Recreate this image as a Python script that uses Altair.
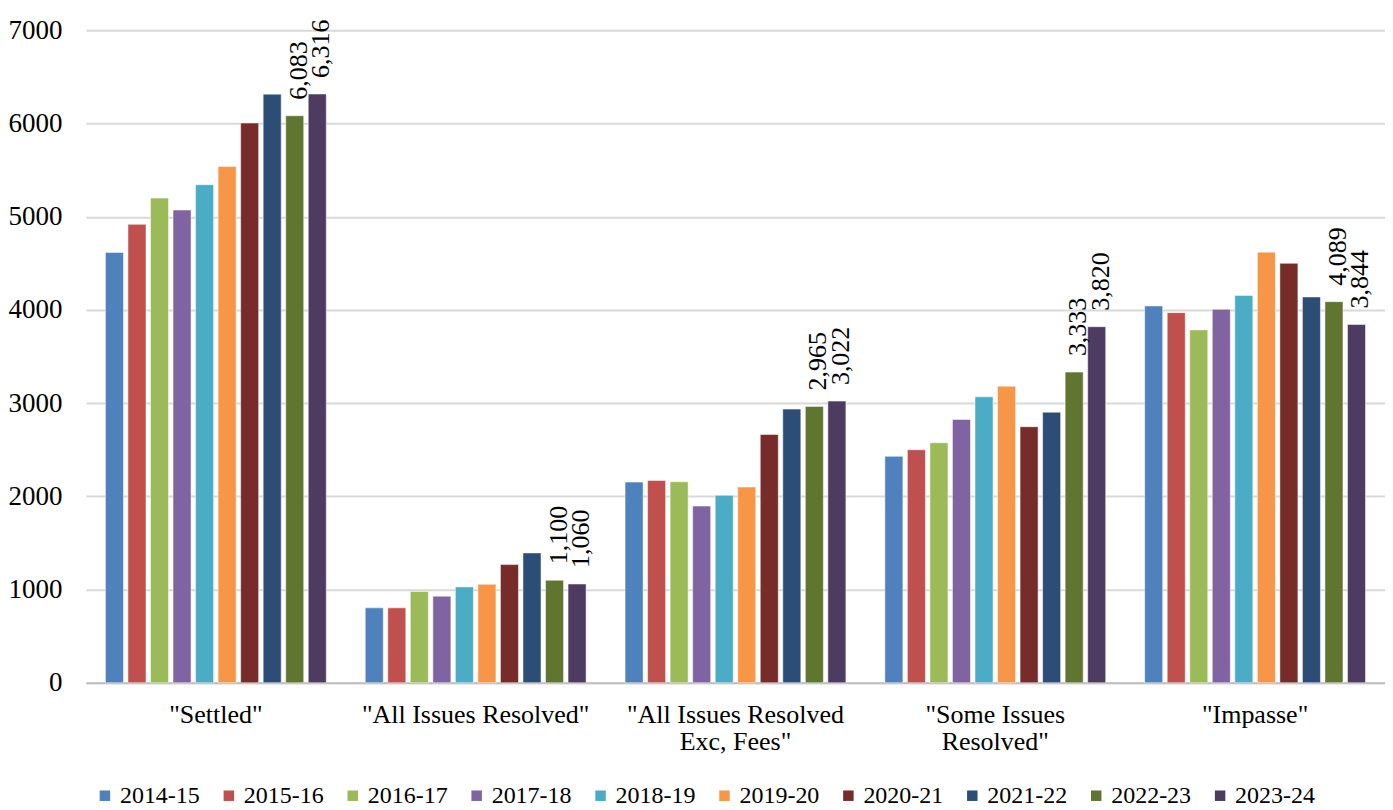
import altair as alt
import pandas as pd

categories = ['"Settled"', '"All Issues Resolved"', '"All Issues Resolved|Exc, Fees"',
              '"Some Issues|Resolved"', '"Impasse"']
years = ["2014-15", "2015-16", "2016-17", "2017-18", "2018-19",
         "2019-20", "2020-21", "2021-22", "2022-23", "2023-24"]

v2014_15 = [4617, 804, 2153, 2429, 4043]
v2015_16 = [4918, 804, 2171, 2500, 3971]
v2016_17 = [5200, 979, 2157, 2575, 3786]
v2017_18 = [5072, 929, 1896, 2825, 4006]
v2018_19 = [5343, 1029, 2011, 3068, 4156]
v2019_20 = [5539, 1057, 2100, 3182, 4620]
v2020_21 = [6005, 1268, 2664, 2747, 4500]
v2021_22 = [6315, 1393, 2936, 2903, 4139]
v2022_23 = [6083, 1100, 2965, 3333, 4089]
v2023_24 = [6316, 1060, 3022, 3820, 3844]

labelled_years = ["2022-23", "2023-24"]

colors = ["#4F81BD", "#C0504D", "#9BBB59", "#8064A2", "#4BACC6",
          "#F79646", "#772C2A", "#2C4D75", "#5F7530", "#4D3B62"]

series = [v2014_15, v2015_16, v2016_17, v2017_18, v2018_19,
          v2019_20, v2020_21, v2021_22, v2022_23, v2023_24]

rows = []
for y, vals in zip(years, series):
    for c, v in zip(categories, vals):
        rows.append({"category": c, "year": y, "value": v})
df = pd.DataFrame(rows)

FONT = "Liberation Serif, Times New Roman, serif"

x = alt.X("category:N", sort=categories, title=None,
          scale=alt.Scale(paddingInner=0.15, paddingOuter=0.075),
          axis=alt.Axis(labelExpr="split(datum.label, '|')", labelAngle=0,
                        labelFontSize=26, labelFont=FONT, labelColor="black",
                        labelPadding=19, labelLineHeight=27, labelLimit=0,
                        ticks=False, domain=True, domainColor="#bfbfbf",
                        domainWidth=2, grid=False))
xoff = alt.XOffset("year:N", sort=years, scale=alt.Scale(paddingInner=0.2))
y = alt.Y("value:Q", title=None,
          scale=alt.Scale(domain=[0, 7000], nice=False),
          axis=alt.Axis(values=list(range(0, 7001, 1000)), format="d",
                        labelFontSize=27, labelFont=FONT, labelColor="black",
                        labelPadding=24, ticks=False, domain=False,
                        gridColor="#d9d9d9", gridWidth=2))

bars = alt.Chart(df).mark_bar(stroke="white", strokeWidth=1, strokeOpacity=0.5).encode(
    x=x, xOffset=xoff, y=y,
    color=alt.Color("year:N", sort=years,
                    scale=alt.Scale(domain=years, range=colors),
                    legend=alt.Legend(title=None, orient="none", direction="horizontal",
                                      columns=10, legendX=7, legendY=754,
                                      symbolType="square", symbolSize=110,
                                      symbolStrokeWidth=0, labelFont=FONT,
                                      labelFontSize=24, labelColor="black",
                                      labelOffset=3, columnPadding=17)),
)

labels = alt.Chart(df).transform_filter(
    alt.FieldOneOfPredicate(field="year", oneOf=labelled_years)
).mark_text(angle=270, align="left", baseline="middle", dx=16, dy=4,
            font=FONT, fontSize=26, color="black").encode(
    x=x, xOffset=xoff, y=y,
    text=alt.Text("value:Q", format=","),
)

chart = (bars + labels).properties(
    width=1300, height=653,
    autosize=alt.AutoSizeParams(type="none"),
    padding={"left": 78, "top": 22, "right": 0, "bottom": 125},
).configure(font=FONT, background="white").configure_view(
    strokeWidth=0, stroke="transparent").configure_axisY(domain=False, ticks=False)

chart.save("out.html", embed_options={"renderer": "svg", "actions": False})
